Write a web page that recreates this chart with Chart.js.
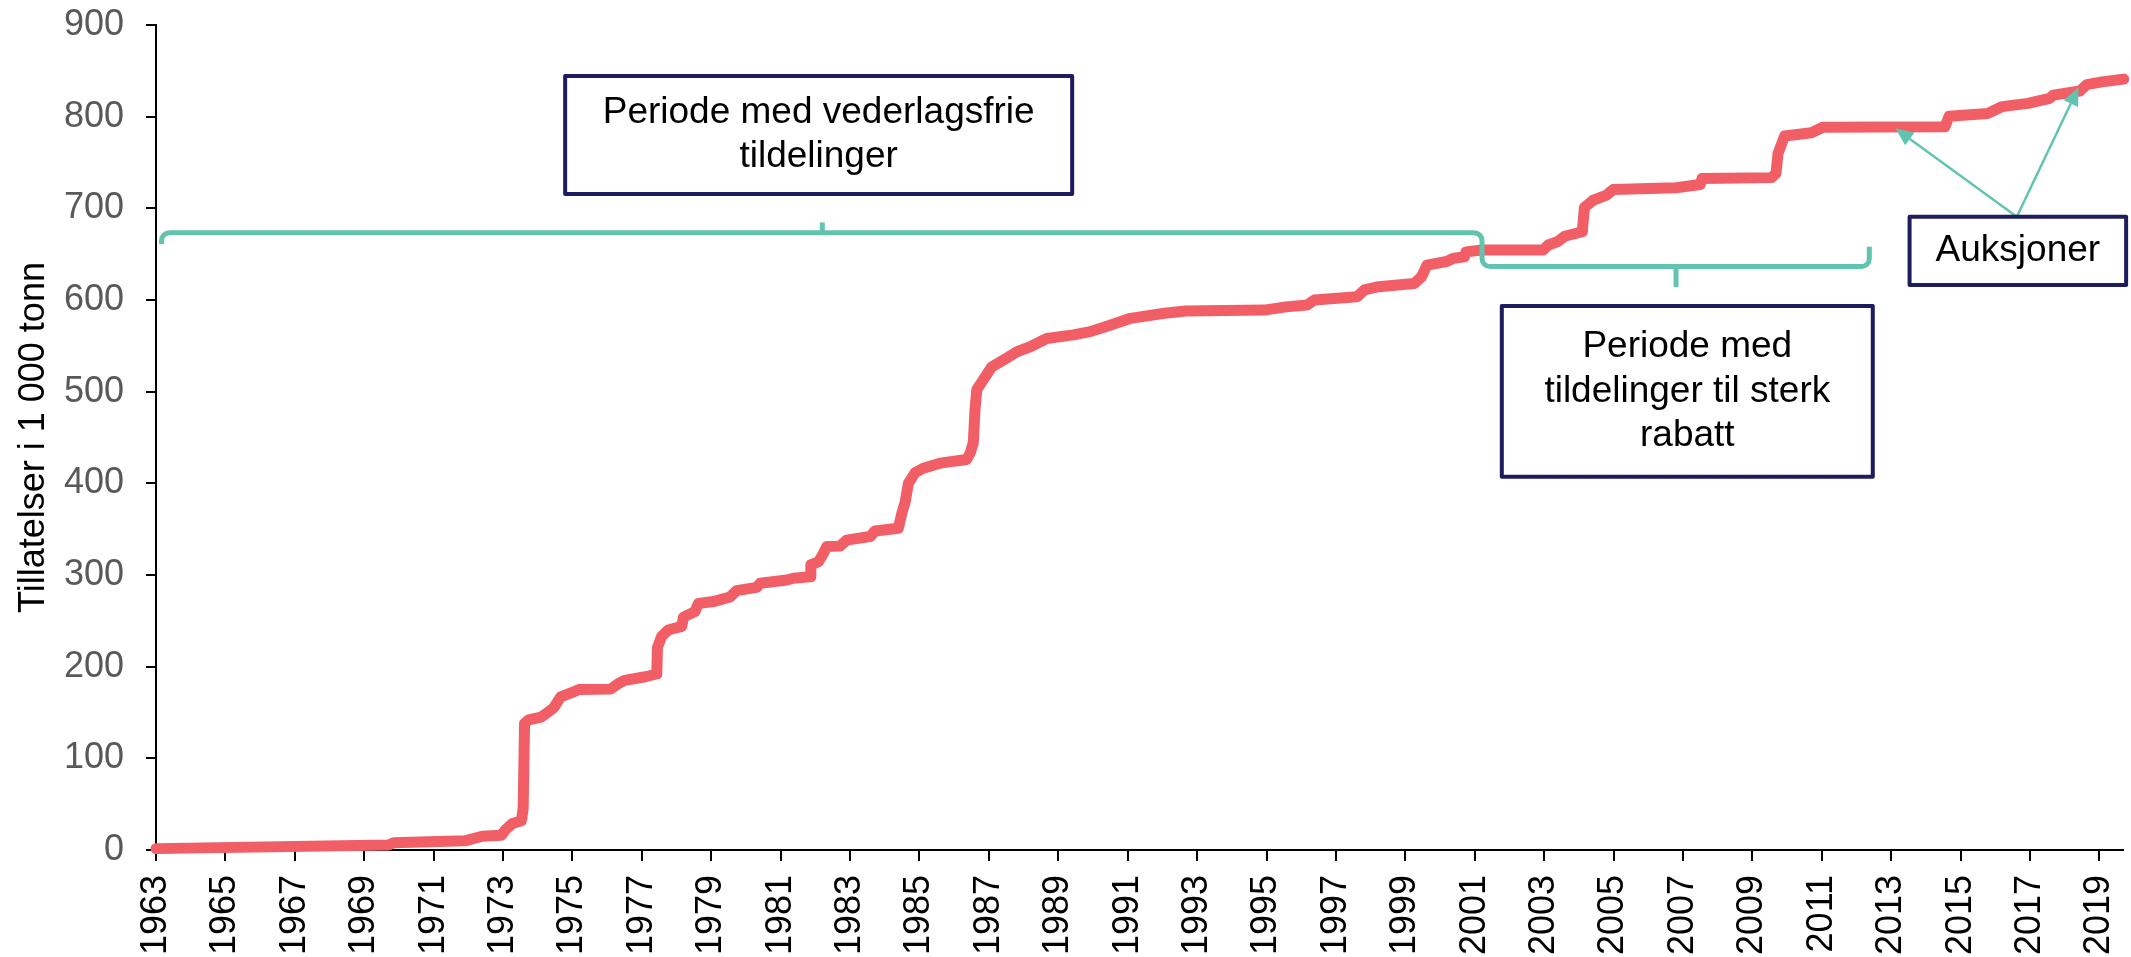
<!DOCTYPE html>
<html>
<head>
<meta charset="utf-8">
<script src="https://cdn.jsdelivr.net/npm/chart.js@4/dist/chart.umd.min.js"></script>
<style>
  html, body { margin: 0; padding: 0; background: #fff; }
  #wrap { width: 2131px; height: 957px; position: relative; }
</style>
</head>
<body>
<div id="wrap"><canvas id="chart"></canvas></div>
<script>
// --- DATA ---
const dates = [
  1963.0, 1969.7, 1969.85, 1971.9, 1972.4, 1972.95, 1973.07, 1973.27, 1973.53, 1973.58,
  1973.62, 1973.74, 1974.1, 1974.46, 1974.66, 1975.07, 1975.18, 1976.1, 1976.3, 1976.5,
  1977.1, 1977.43, 1977.45, 1977.57, 1977.76, 1978.15, 1978.2, 1978.53, 1978.63, 1979.06,
  1979.54, 1979.73, 1980.31, 1980.41, 1981.18, 1981.37, 1981.85, 1981.87, 1982.09, 1982.23,
  1982.33, 1982.71, 1982.9, 1983.58, 1983.72, 1984.39, 1984.49, 1984.59, 1984.68, 1984.87,
  1985.11, 1985.59, 1986.36, 1986.46, 1986.55, 1986.6, 1986.65, 1986.89, 1987.08, 1987.42,
  1987.8, 1988.19, 1988.67, 1989.43, 1989.92, 1990.49, 1991.08, 1992.06, 1992.67, 1994.94,
  1995.56, 1996.17, 1996.38, 1997.61, 1997.82, 1998.23, 1999.26, 1999.47, 1999.62, 2000.19,
  2000.39, 2000.7, 2000.75, 2001.21, 2002.97, 2003.12, 2003.38, 2003.59, 2004.1, 2004.16,
  2004.42, 2004.8, 2004.99, 2006.8, 2007.5, 2007.55, 2009.55, 2009.68, 2009.74, 2009.93,
  2010.7, 2011.03, 2014.55, 2014.67, 2015.78, 2016.2, 2016.94, 2017.57, 2017.67, 2018.44,
  2018.64, 2019.07, 2019.7
];
const allowances = [
  1.5, 5.5, 8, 10, 15, 16, 22, 29, 32, 45,
  138, 142, 145, 155, 167, 173, 175, 175.5, 181, 185,
  189, 192, 221, 233, 240, 244, 254, 260, 269, 271,
  276, 283, 286.5, 291, 294.5, 296.5, 298, 311, 314.5, 323.5,
  331, 331.5, 338, 342, 348, 351, 367, 380, 400, 411.5,
  416.5, 422, 426, 433, 444, 480, 502, 516, 527, 534.5,
  543.5, 549, 558, 562, 565.5, 572.5, 580, 585.5, 588, 589,
  592.5, 594.5, 600, 603.5, 611, 614.5, 618, 625.5, 638, 642,
  645.5, 647, 652.5, 654.5, 654.5, 660, 663.5, 669.5, 674.5, 701,
  709, 714.5, 720.5, 722.5, 726, 732.5, 733.5, 738, 760, 779,
  782.5, 788.5, 789, 800.5, 803.5, 811, 814.5, 820, 823.5, 828,
  835, 838, 841
];
const tickYears = [
  1963, 1965, 1967, 1969, 1971, 1973, 1975, 1977, 1979, 1981, 1983, 1985, 1987, 1989, 1991,
  1993, 1995, 1997, 1999, 2001, 2003, 2005, 2007, 2009, 2011, 2013, 2015, 2017, 2019
];
const freeLabel = ['Periode med vederlagsfrie', 'tildelinger'];
const discountLabel = ['Periode med', 'tildelinger til sterk', 'rabatt'];
const auctionLabel = ['Auksjoner'];

const FONT = '"Liberation Sans", Arial, sans-serif';
const RED = '#f25e66';
const TEAL = '#62c4ae';
const NAVY = '#1c1c5e';

// annotation placement in data units (year, 1000 t)
const boxes = [
  { lines: freeLabel, x0: 1974.79, x1: 1989.40, y0: 844.3, y1: 715.6 },
  { lines: discountLabel, x0: 2001.78, x1: 2012.47, y0: 593.4, y1: 407.2 },
  { lines: auctionLabel, x0: 2013.53, x1: 2019.77, y0: 690.9, y1: 616.4 }
];
const bracketPath = [[1963.16, 661], [1963.16, 673.4], [2001.21, 673.4], [2001.21, 636.5], [2012.37, 636.5], [2012.37, 658]];
const bracketTips = [[1982.2, 673.4, 684.6], [2006.8, 636.5, 614]];
const arrowTail = [2016.62, 690.9];
const arrowHeads = [[2013.12, 787.3], [2018.4, 832]];

// --- ANNOTATIONS PLUGIN ---
const annotationPlugin = {
  id: 'annotations',
  afterDatasetsDraw(chart) {
    const { ctx, scales: { x, y } } = chart;
    const px = v => x.getPixelForValue(v);
    const py = v => y.getPixelForValue(v);
    ctx.save();

    // brackets
    ctx.strokeStyle = TEAL;
    ctx.lineWidth = 5;
    ctx.lineJoin = 'round';
    ctx.lineCap = 'butt';
    ctx.beginPath();
    const pts = bracketPath.map(p => [px(p[0]), py(p[1])]);
    ctx.moveTo(pts[0][0], pts[0][1]);
    for (let i = 1; i < pts.length - 1; i++) {
      ctx.arcTo(pts[i][0], pts[i][1], pts[i + 1][0], pts[i + 1][1], 8);
    }
    ctx.lineTo(pts[pts.length - 1][0], pts[pts.length - 1][1]);
    ctx.stroke();
    bracketTips.forEach(t => {
      ctx.beginPath();
      ctx.moveTo(px(t[0]), py(t[1]));
      ctx.lineTo(px(t[0]), py(t[2]));
      ctx.stroke();
    });

    // arrows
    ctx.lineWidth = 2.5;
    ctx.fillStyle = TEAL;
    const tx = px(arrowTail[0]), ty = py(arrowTail[1]);
    arrowHeads.forEach(h => {
      const hx = px(h[0]), hy = py(h[1]);
      const ang = Math.atan2(hy - ty, hx - tx);
      const len = 18, wid = 8;
      const bx = hx - len * Math.cos(ang), by = hy - len * Math.sin(ang);
      ctx.beginPath();
      ctx.moveTo(tx, ty);
      ctx.lineTo(bx, by);
      ctx.stroke();
      ctx.beginPath();
      ctx.moveTo(hx, hy);
      ctx.lineTo(bx + wid * Math.sin(ang), by - wid * Math.cos(ang));
      ctx.lineTo(bx - wid * Math.sin(ang), by + wid * Math.cos(ang));
      ctx.closePath();
      ctx.fill();
    });

    // text boxes
    boxes.forEach(b => {
      const l = px(b.x0), r = px(b.x1), t = py(b.y0), btm = py(b.y1);
      ctx.fillStyle = '#fff';
      ctx.fillRect(l, t, r - l, btm - t);
      ctx.strokeStyle = NAVY;
      ctx.lineWidth = 4;
      ctx.strokeRect(l, t, r - l, btm - t);
      ctx.fillStyle = '#000';
      ctx.font = '37px ' + FONT;
      ctx.textAlign = 'center';
      ctx.textBaseline = 'middle';
      const lh = 44.5;
      const cy = (t + btm) / 2 - (b.lines.length - 1) * lh / 2;
      b.lines.forEach((s, i) => ctx.fillText(s, (l + r) / 2, cy + i * lh));
    });
    ctx.restore();
  }
};

// --- CHART ---
const points = dates.map((d, i) => ({ x: d, y: allowances[i] }));

new Chart(document.getElementById('chart'), {
  type: 'line',
  data: {
    datasets: [{
      data: points,
      borderColor: RED,
      borderWidth: 11,
      borderJoinStyle: 'round',
      borderCapStyle: 'round',
      pointRadius: 0,
      tension: 0,
      fill: false,
      clip: 10
    }]
  },
  options: {
    responsive: true,
    maintainAspectRatio: false,
    animation: false,
    layout: { padding: { top: 25, right: 8, left: 0, bottom: 0 } },
    plugins: { legend: { display: false }, tooltip: { enabled: false } },
    scales: {
      x: {
        type: 'linear',
        min: 1963,
        max: 2019.68,
        afterBuildTicks: axis => { axis.ticks = tickYears.map(v => ({ value: v })); },
        afterFit: scale => { scale.height = 107; scale.paddingLeft = 0; scale.paddingRight = 0; },
        grid: { drawOnChartArea: false, drawTicks: true, tickLength: 11, color: '#000', lineWidth: 2 },
        border: { display: true, color: '#000', width: 2 },
        ticks: {
          autoSkip: false,
          minRotation: 90,
          maxRotation: 90,
          padding: 14,
          color: '#000',
          font: { family: FONT, size: 36 },
          callback: v => String(v)
        }
      },
      y: {
        min: 0,
        max: 900,
        afterFit: scale => { scale.width = 156; scale.paddingTop = 0; scale.paddingBottom = 0; },
        grid: { drawOnChartArea: false, drawTicks: true, tickLength: 10, color: '#000', lineWidth: 2 },
        border: { display: true, color: '#000', width: 2 },
        ticks: {
          stepSize: 100,
          padding: 22,
          color: '#595959',
          font: { family: FONT, size: 36 }
        },
        title: {
          display: true,
          text: 'Tillatelser i 1 000 tonn',
          color: '#000',
          font: { family: FONT, size: 36 },
          padding: { top: 12, bottom: 0 }
        }
      }
    }
  },
  plugins: [annotationPlugin]
});
</script>
</body>
</html>
